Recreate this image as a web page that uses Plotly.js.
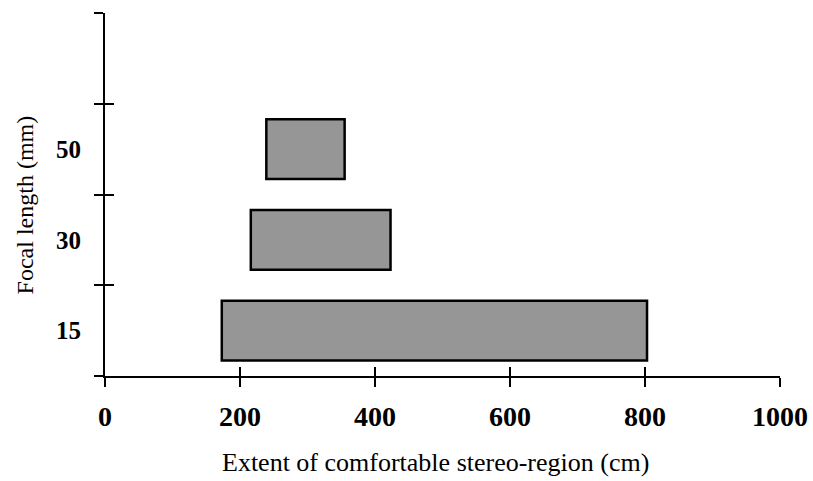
<!DOCTYPE html>
<html>
<head>
<meta charset="utf-8">
<script src="https://cdn.plot.ly/plotly-3.0.1.min.js"></script>
<style>html,body{margin:0;padding:0;background:#fff;}#chart{width:813px;height:481px;}</style>
</head>
<body>
<div id="chart"></div>
<script>
// Data
var focalLengths = ["15", "30", "50"];          // mm
var slotCenters = [0.5, 1.5, 2.5];               // category slot centres on the y axis
var rangeStart = [173, 216, 239];                // cm
var rangeEnd = [803, 423, 355];                  // cm
var xTickVals = [0, 200, 400, 600, 800, 1000];
var yBoundaries = [0, 1, 2, 3, 4];

var widths = rangeEnd.map(function (e, i) { return e - rangeStart[i]; });

var serif = "Liberation Serif, Times New Roman, serif";

var bars = {
  type: "bar",
  orientation: "h",
  y: slotCenters,
  x: widths,
  base: rangeStart,
  width: 0.66,
  marker: { color: "#969696", line: { color: "#000", width: 2.5 } },
  hoverinfo: "x+y",
  showlegend: false
};

var dummy = {
  type: "scatter", mode: "markers", x: [0], y: [0],
  xaxis: "x2", yaxis: "y2", marker: { opacity: 0 }, hoverinfo: "skip", showlegend: false
};

var layout = {
  width: 813, height: 481,
  margin: { l: 105, r: 33, t: 13, b: 105 },
  paper_bgcolor: "#fff", plot_bgcolor: "#fff",
  showlegend: false,
  xaxis: {
    range: [0, 1000],
    tickmode: "array", tickvals: xTickVals,
    ticks: "outside", ticklen: 9, tickwidth: 2, tickcolor: "#000",
    showline: true, linecolor: "#000", linewidth: 2,
    showgrid: false, zeroline: false,
    tickfont: { family: serif, size: 28, color: "#000", weight: "bold" },
    ticklabelstandoff: 5
  },
  xaxis2: {
    overlaying: "x", range: [0, 1000],
    tickmode: "array", tickvals: xTickVals,
    ticks: "inside", ticklen: 9, tickwidth: 2, tickcolor: "#000",
    showticklabels: false, showline: false, showgrid: false, zeroline: false
  },
  yaxis: {
    range: [0, 4],
    tickmode: "array", tickvals: slotCenters, ticktext: focalLengths,
    ticks: "", showline: true, linecolor: "#000", linewidth: 2,
    showgrid: false, zeroline: false,
    tickfont: { family: serif, size: 25, color: "#000", weight: "bold" },
    ticklabelstandoff: 17,
    minor: { tickmode: "array", tickvals: yBoundaries, ticks: "outside", ticklen: 9, tickwidth: 2, tickcolor: "#000", showgrid: false }
  },
  yaxis2: {
    overlaying: "y", range: [0, 4],
    tickmode: "array", tickvals: yBoundaries,
    ticks: "inside", ticklen: 9, tickwidth: 2, tickcolor: "#000",
    showticklabels: false, showline: false, showgrid: false, zeroline: false
  },
  annotations: [
    {
      text: "Extent of comfortable stereo-region (cm)",
      xref: "paper", yref: "paper", x: 0.49, y: 0, yshift: -86,
      xanchor: "center", yanchor: "middle", showarrow: false,
      font: { family: serif, size: 26, color: "#000" }
    },
    {
      text: "Focal length (mm)",
      xref: "paper", yref: "paper", x: 0, xshift: -80, y: 0.47,
      xanchor: "center", yanchor: "middle", showarrow: false, textangle: -90,
      font: { family: serif, size: 24, color: "#000" }
    }
  ]
};

Plotly.newPlot("chart", [bars, dummy], layout, { staticPlot: true, displayModeBar: false });
</script>
</body>
</html>
